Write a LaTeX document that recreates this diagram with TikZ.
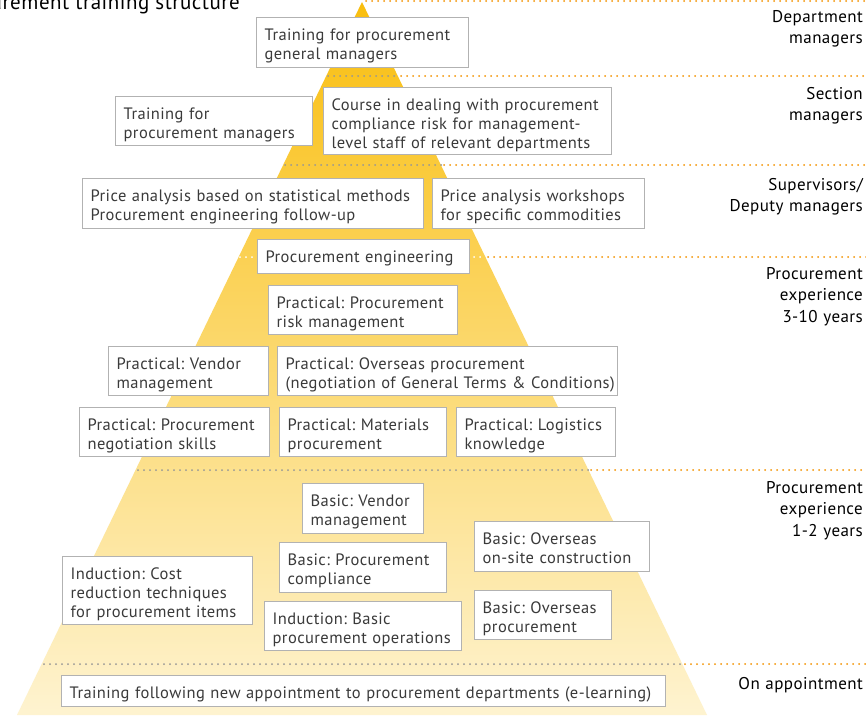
\documentclass[tikz,border=0pt]{standalone}
\usepackage{fontspec}
\setmainfont{PT Sans}[LetterSpace=2.5]
\frenchspacing
\definecolor{pytop}{RGB}{249,190,14}
\definecolor{pybot}{RGB}{254,243,208}
\definecolor{boxgray}{RGB}{178,178,178}
\definecolor{txtgray}{RGB}{58,58,58}
\definecolor{dotgray}{RGB}{150,150,150}
\definecolor{dotorange}{RGB}{243,146,0}
\newcommand\boxfont{\fontsize{16.5}{19}\selectfont}
\newcommand\lblfont{\fontsize{17}{21.3}\selectfont}
\begin{document}
\begin{tikzpicture}[x=1pt,y=-1pt,
  tbox/.style={draw=boxgray, line width=1.3pt, fill=white, text=txtgray,
    font=\boxfont, align=left, anchor=north west, inner xsep=8pt,
    inner ysep=0pt, text height=22.7pt},
  lbl/.style={anchor=base east, align=right, text width=200pt, inner sep=0pt,
    font=\lblfont, text=black},
  gdots/.style={draw=dotgray, line width=2pt, line cap=round, dash pattern=on 0pt off 6pt},
  odots/.style={draw=dotorange, line width=2pt, line cap=round, dash pattern=on 0pt off 6pt},
  wdots/.style={draw=white, line width=2pt, line cap=round, dash pattern=on 0pt off 6pt}]
\useasboundingbox (0,0) rectangle (866,715);
\fill[white] (0,0) rectangle (866,715);
\clip (0,0) rectangle (866,715);

% pyramid
\shade[top color=pytop, bottom color=pybot] (362,2) -- (707,715) -- (17,715) -- cycle;

% title (cropped at the left edge, as in the reference)
\node[anchor=base east, inner sep=0pt, font=\fontsize{21}{24}\selectfont, text=black] (title) at (240,9) {Procurement training structure};

% level separators
\draw[odots] (366,1) -- (866,1);
\draw[gdots] (328,76) -- (398,76);
\draw[odots] (401,76) -- (866,76);
\draw[gdots] (285,165) -- (441,165);
\draw[odots] (444,165) -- (866,165);
\draw[wdots] (240,257) -- (485,257);
\draw[odots] (488,257) -- (866,257);
\draw[gdots] (138,470) -- (588,470);
\draw[odots] (591,470) -- (866,470);
\draw[gdots] (44,664) -- (682,664);
\draw[odots] (685,664) -- (866,664);

% training boxes
\node[tbox, text width=196pt, text depth=27.3pt] (gm) at (256,17) {Training for procurement\\general managers};
\node[tbox, text width=181pt, text depth=26.3pt] (pm) at (115,96) {Training for\\procurement managers};
\node[tbox, text width=272pt, text depth=44.3pt] (course) at (323,87) {Course in dealing with procurement\\compliance risk for management-\\level staff of relevant departments};
\node[tbox, text width=325pt, text depth=27.3pt] (price) at (82,178) {\mbox{Price analysis based on statistical methods}\\Procurement engineering follow-up};
\node[tbox, text width=196pt, text depth=27.3pt] (workshop) at (432,178) {Price analysis workshops\\for specific commodities};
\node[tbox, text width=196pt, text depth=11.3pt] (eng) at (257,239) {Procurement engineering};
\node[tbox, text width=173pt, text depth=26.3pt] (risk) at (268,285) {Practical: Procurement\\risk management};
\node[tbox, text width=144pt, text depth=26.3pt] (pvendor) at (108,346) {Practical: Vendor\\management};
\node[tbox, text width=324pt, text depth=26.3pt] (overseas) at (277,346) {Practical: Overseas procurement\\\mbox{(negotiation of General Terms \& Conditions)}};
\node[tbox, text width=174pt, text depth=26.3pt] (negot) at (79,407) {Practical: Procurement\\negotiation skills};
\node[tbox, text width=151pt, text depth=26.3pt] (materials) at (279,407) {Practical: Materials\\procurement};
\node[tbox, text width=143pt, text depth=26.3pt] (logistics) at (456,407) {Practical: Logistics\\knowledge};
\node[tbox, text width=105pt, text depth=27.3pt] (bvendor) at (302,483) {Basic: Vendor\\management};
\node[tbox, text width=151pt, text depth=27.3pt] (compliance) at (279,542) {Basic: Procurement\\compliance};
\node[tbox, text width=174pt, text depth=45.3pt] (cost) at (62,556) {Induction: Cost\\reduction techniques\\for procurement items};
\node[tbox, text width=181pt, text depth=26.3pt] (induction) at (264,601) {Induction: Basic\\procurement operations};
\node[tbox, text width=159pt, text depth=27.3pt] (onsite) at (474,521) {Basic: Overseas\\on-site construction};
\node[tbox, text width=121pt, text depth=26.3pt] (boverseas) at (474,590) {Basic: Overseas\\procurement};
\node[tbox, text width=588pt, text depth=8.3pt] (newapp) at (61,675) {Training following new appointment to procurement departments (e-learning)};

% level labels
\node[lbl] (l1) at (863,22) {Department\\managers};
\node[lbl] (l2) at (863,99.5) {Section\\managers};
\node[lbl] (l3) at (863,190.5) {Supervisors/\\Deputy managers};
\node[lbl] (l4) at (863,279.5) {Procurement\\experience\\3-10 years};
\node[lbl] (l5) at (863,493.5) {Procurement\\experience\\1-2 years};
\node[lbl] (l6) at (863,689.5) {On appointment};
\end{tikzpicture}
\end{document}
